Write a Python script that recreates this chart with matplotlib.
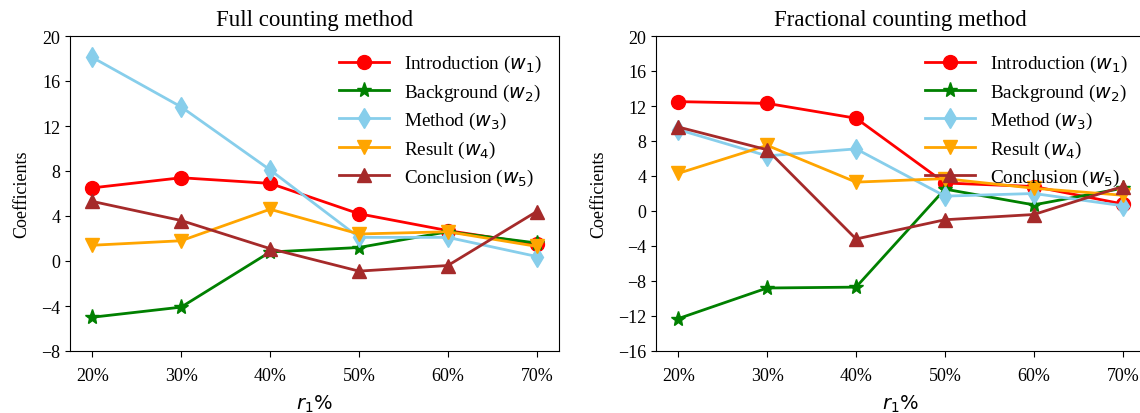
import matplotlib
matplotlib.use("Agg")
import matplotlib.pyplot as plt

# x categories
r1_labels = ["20%", "30%", "40%", "50%", "60%", "70%"]

# Full counting method
full_intro = [6.5, 7.4, 6.9, 4.2, 2.7, 1.5]
full_background = [-5.0, -4.1, 0.8, 1.2, 2.6, 1.6]
full_method = [18.1, 13.7, 8.1, 2.1, 2.1, 0.4]
full_result = [1.4, 1.8, 4.6, 2.4, 2.6, 1.3]
full_conclusion = [5.3, 3.6, 1.1, -0.9, -0.4, 4.4]

# Fractional counting method
frac_intro = [12.5, 12.3, 10.6, 3.2, 2.8, 0.8]
frac_background = [-12.3, -8.8, -8.7, 2.5, 0.7, 2.6]
frac_method = [9.3, 6.3, 7.1, 1.7, 2.0, 0.6]
frac_result = [4.3, 7.5, 3.3, 3.7, 2.6, 1.8]
frac_conclusion = [9.6, 7.0, -3.2, -1.0, -0.4, 2.8]

series_names = ["Introduction", "Background", "Method", "Result", "Conclusion"]
colors = ["red", "green", "skyblue", "orange", "brown"]
markers = ["o", "*", "d", "v", "^"]

plt.rcParams["font.family"] = ["Liberation Serif", "DejaVu Serif"]
plt.rcParams["mathtext.fontset"] = "dejavusans"

fig = plt.figure(figsize=(11.4, 4.14), dpi=100)
# right panel runs past the figure edge, as in the original crop
ax1 = fig.add_axes([70 / 1140, 62 / 414, 489 / 1140, 315 / 414])
ax2 = fig.add_axes([656 / 1140, 62 / 414, 489 / 1140, 315 / 414])

panels = [
    (ax1, "Full counting method",
     [full_intro, full_background, full_method, full_result, full_conclusion],
     (-8, 20)),
    (ax2, "Fractional counting method",
     [frac_intro, frac_background, frac_method, frac_result, frac_conclusion],
     (-16, 20)),
]

x = list(range(len(r1_labels)))
for ax, title, data, ylim in panels:
    for i, (name, vals) in enumerate(zip(series_names, data)):
        ms = 11 if markers[i] == "*" else 10
        ax.plot(x, vals, color=colors[i], marker=markers[i], markersize=ms,
                linewidth=2, label=f"{name} ($w_{i + 1}$)")
    ax.set_xticks(x)
    ax.set_xticklabels(r1_labels)
    ax.set_ylim(*ylim)
    ax.set_yticks(range(ylim[0], ylim[1] + 1, 4))
    ax.tick_params(labelsize=13)
    ax.tick_params(axis="x", pad=7.5, length=4.3)
    ax.set_title(title, fontsize=16.5, pad=8)
    ax.set_ylabel("Coefficients", fontsize=13, labelpad=7.5)
    ax.set_xlabel("$r_1$%", fontsize=14, family="DejaVu Sans", labelpad=6)
    ax.legend(loc="upper right", frameon=False, fontsize=13.8,
              handlelength=2.6, labelspacing=0.38, handletextpad=0.8)

fig.savefig("out.png", dpi=100)
